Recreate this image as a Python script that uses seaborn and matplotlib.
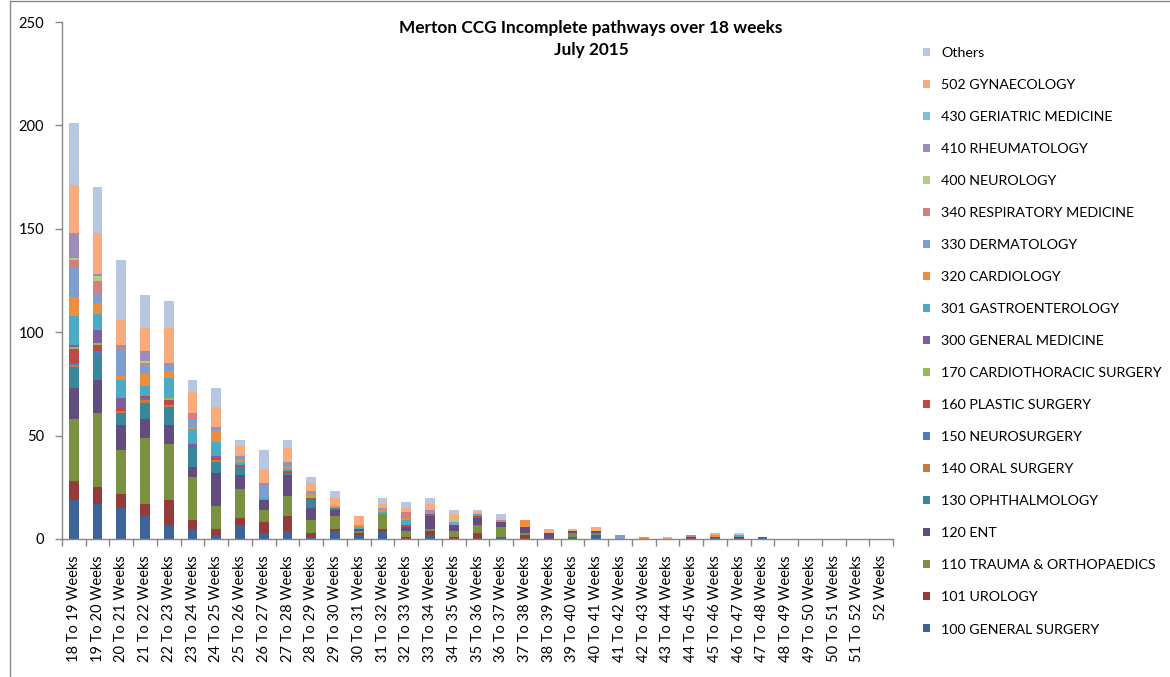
import numpy as np
import pandas as pd
import matplotlib
matplotlib.use("Agg")
import matplotlib.pyplot as plt
from matplotlib.lines import Line2D
import seaborn as sns

# Waiting-time bands (x axis)
bands = [f"{w} To {w + 1} Weeks" for w in range(18, 52)] + ["52 Weeks"]

# Incomplete pathways per specialty and waiting-time band
general_surgery = [19, 17, 15, 11, 7, 5, 2, 7, 3, 4, 1, 4, 2, 4, 0, 2, 0, 0, 1, 0, 0, 1, 2, 0, 0, 0, 0, 1, 0, 1, 0, 0, 0, 0, 0]
urology = [9, 8, 7, 6, 12, 4, 3, 3, 5, 7, 2, 1, 1, 1, 1, 2, 1, 3, 0, 2, 0, 0, 0, 0, 0, 0, 1, 0, 1, 0, 0, 0, 0, 0, 0]
trauma_ortho = [30, 36, 21, 32, 27, 21, 11, 14, 6, 10, 6, 6, 1, 7, 3, 1, 3, 4, 5, 1, 0, 2, 1, 0, 0, 0, 0, 0, 0, 0, 0, 0, 0, 0, 0]
ent = [15, 16, 12, 9, 9, 5, 16, 7, 5, 10, 6, 3, 1, 0, 2, 6, 3, 3, 2, 3, 3, 1, 1, 0, 0, 0, 0, 0, 0, 0, 0, 0, 0, 0, 0]
ophthalmology = [10, 12, 6, 8, 9, 9, 5, 4, 0, 1, 4, 1, 0, 0, 0, 0, 0, 0, 0, 0, 0, 0, 0, 0, 0, 0, 0, 0, 0, 0, 0, 0, 0, 0, 0]
oral_surgery = [1, 0, 1, 1, 1, 0, 1, 0, 0, 0, 0, 0, 0, 0, 0, 0, 0, 0, 0, 0, 0, 0, 0, 0, 0, 0, 0, 0, 0, 0, 0, 0, 0, 0, 0]
neurosurgery = [1, 2, 0, 1, 0, 0, 0, 0, 0, 0, 0, 0, 0, 0, 0, 0, 0, 0, 0, 0, 0, 0, 0, 0, 0, 0, 0, 0, 0, 0, 0, 0, 0, 0, 0]
plastic_surgery = [7, 3, 2, 1, 2, 0, 1, 1, 0, 1, 1, 0, 0, 0, 1, 1, 0, 1, 0, 0, 0, 0, 0, 0, 0, 0, 0, 0, 0, 0, 0, 0, 0, 0, 0]
cardiothoracic = [1, 1, 0, 0, 1, 0, 0, 0, 0, 0, 1, 0, 0, 0, 0, 0, 0, 0, 0, 0, 0, 0, 0, 0, 0, 0, 0, 0, 0, 0, 0, 0, 0, 0, 0]
general_medicine = [1, 6, 4, 0, 0, 2, 1, 0, 0, 0, 0, 0, 0, 0, 0, 0, 0, 0, 0, 0, 0, 0, 0, 0, 0, 0, 0, 0, 0, 0, 0, 0, 0, 0, 0]
gastroenterology = [14, 8, 9, 5, 10, 7, 7, 1, 1, 1, 0, 0, 1, 1, 2, 0, 0, 1, 0, 0, 0, 0, 0, 0, 0, 0, 0, 0, 1, 0, 0, 0, 0, 0, 0]
cardiology = [9, 5, 2, 6, 3, 1, 5, 1, 0, 1, 1, 1, 1, 1, 1, 0, 0, 0, 0, 3, 0, 0, 0, 0, 1, 0, 0, 1, 0, 0, 0, 0, 0, 0, 0]
dermatology = [14, 5, 13, 4, 3, 4, 1, 1, 6, 1, 1, 0, 0, 1, 0, 1, 1, 0, 0, 0, 0, 0, 0, 2, 0, 0, 0, 0, 0, 0, 0, 0, 0, 0, 0]
respiratory = [4, 6, 1, 1, 0, 3, 0, 0, 0, 0, 0, 0, 0, 0, 3, 0, 0, 0, 1, 0, 0, 0, 0, 0, 0, 0, 0, 0, 0, 0, 0, 0, 0, 0, 0]
neurology = [1, 2, 0, 1, 0, 0, 0, 0, 0, 0, 0, 0, 0, 0, 0, 0, 1, 0, 0, 0, 0, 0, 0, 0, 0, 0, 0, 0, 0, 0, 0, 0, 0, 0, 0]
rheumatology = [12, 1, 1, 5, 1, 0, 1, 1, 1, 1, 0, 0, 0, 0, 0, 1, 0, 0, 0, 0, 0, 0, 0, 0, 0, 0, 1, 0, 0, 0, 0, 0, 0, 0, 0]
geriatric = [0] * 35
gynaecology = [23, 20, 12, 11, 17, 10, 10, 5, 7, 7, 4, 4, 4, 2, 2, 3, 3, 1, 0, 0, 2, 1, 2, 0, 0, 1, 0, 1, 0, 0, 0, 0, 0, 0, 0]
others = [30, 22, 29, 16, 13, 6, 9, 3, 9, 4, 3, 3, 0, 3, 3, 3, 2, 1, 3, 0, 0, 0, 0, 0, 0, 0, 0, 0, 1, 0, 0, 0, 0, 0, 0]

# Legend order (top of legend = top of stack)
specialties = [
    ("Others", others, "#B8C7E1"),
    ("502 GYNAECOLOGY", gynaecology, "#F9AB7B"),
    ("430 GERIATRIC MEDICINE", geriatric, "#7CC0D3"),
    ("410 RHEUMATOLOGY", rheumatology, "#A08BBB"),
    ("400 NEUROLOGY", neurology, "#B1CD84"),
    ("340 RESPIRATORY MEDICINE", respiratory, "#D27F7E"),
    ("330 DERMATOLOGY", dermatology, "#7E9ED0"),
    ("320 CARDIOLOGY", cardiology, "#EC8E3E"),
    ("301 GASTROENTEROLOGY", gastroenterology, "#4BAAC4"),
    ("300 GENERAL MEDICINE", general_medicine, "#7D5FA0"),
    ("170 CARDIOTHORACIC SURGERY", cardiothoracic, "#98BA55"),
    ("160 PLASTIC SURGERY", plastic_surgery, "#BE4A48"),
    ("150 NEUROSURGERY", neurosurgery, "#4A7CBE"),
    ("140 ORAL SURGERY", oral_surgery, "#C97B3D"),
    ("130 OPHTHALMOLOGY", ophthalmology, "#38879A"),
    ("120 ENT", ent, "#634C7F"),
    ("110 TRAUMA & ORTHOPAEDICS", trauma_ortho, "#7A923F"),
    ("101 UROLOGY", urology, "#953B3A"),
    ("100 GENERAL SURGERY", general_surgery, "#3D6499"),
]

records = []
for name, values, _ in specialties:
    for band, v in zip(bands, values):
        records.append({"band": band, "specialty": name, "count": v})
df = pd.DataFrame(records)
df["band"] = pd.Categorical(df["band"], categories=bands, ordered=True)

hue_order = [s[0] for s in specialties]
palette = {s[0]: s[2] for s in specialties}

sns.set_theme(style="white")
plt.rcParams["font.family"] = ["Lato", "DejaVu Sans"]

W, H = 1170, 677
fig = plt.figure(figsize=(W / 100, H / 100), dpi=100)
ax = fig.add_axes([62 / W, 1 - 539 / H, (893 - 62) / W, (539 - 22) / H])

sns.histplot(
    data=df, x="band", weights="count", hue="specialty",
    hue_order=hue_order, palette=palette, multiple="stack",
    discrete=True, shrink=0.41, alpha=1, linewidth=0,
    edgecolor="none", ax=ax,
)

ax.set_xlim(-0.5, len(bands) - 0.5)
ax.set_ylim(0, 250)
ax.set_yticks(np.arange(0, 251, 50))
ax.set_xlabel("")
ax.set_ylabel("")

axis_grey = "#868686"
for side in ("top", "right"):
    ax.spines[side].set_visible(False)
for side in ("left", "bottom"):
    ax.spines[side].set_color(axis_grey)
    ax.spines[side].set_linewidth(1)

# Tick marks sit between categories; labels are centred under each bar
ax.set_xticks(np.arange(-0.5, len(bands), 1))
ax.set_xticklabels([])
ax.set_xticks(np.arange(len(bands)), minor=True)
ax.set_xticklabels(bands, minor=True, rotation=90, fontsize=10.5, color="black")
ax.tick_params(axis="x", which="major", direction="out", length=5, width=1,
               color=axis_grey, bottom=True)
ax.tick_params(axis="x", which="minor", length=0, pad=11.5)
ax.tick_params(axis="y", direction="out", length=5, width=1, color=axis_grey,
               labelsize=10.5, labelcolor="black", pad=8, left=True)

# Title
fig.text(591 / W, 1 - 28 / H, "Merton CCG Incomplete pathways over 18 weeks",
         ha="center", va="center", fontsize=12.4, fontweight="bold", color="black")
fig.text(591 / W, 1 - 50 / H, "July 2015",
         ha="center", va="center", fontsize=12.4, fontweight="bold", color="black")

# Legend on the right
sns.move_legend(
    ax, "upper left", bbox_to_anchor=(923 / W, 1 - 47 / H),
    bbox_transform=fig.transFigure, title=None, frameon=False,
    fontsize=10.3, labelspacing=1.40, handlelength=0.5, handleheight=0.5,
    handletextpad=0.75, borderpad=0, borderaxespad=0,
)
for t in ax.get_legend().get_texts():
    t.set_color("black")

# Chart-area border
fig.add_artist(Line2D([10 / W, 10 / W], [0, 1 - 1 / H], transform=fig.transFigure,
                      color=axis_grey, linewidth=1))
fig.add_artist(Line2D([10 / W, 1], [1 - 1 / H, 1 - 1 / H], transform=fig.transFigure,
                      color=axis_grey, linewidth=1))

fig.savefig("out.png", dpi=100, facecolor="white")
